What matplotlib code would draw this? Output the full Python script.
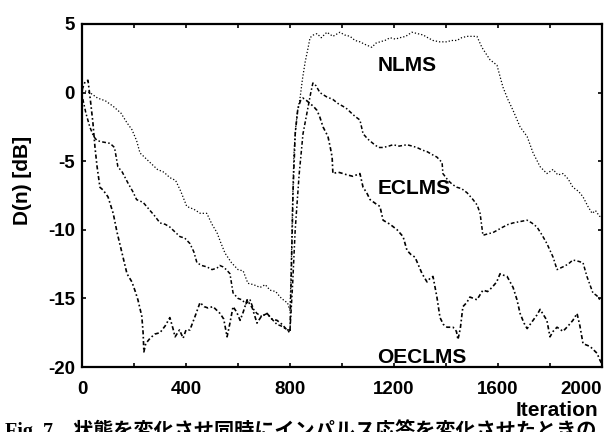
import matplotlib
matplotlib.use("Agg")
import matplotlib.pyplot as plt

# ===== data =====
nlms_x = [0, 30, 60, 90, 120, 150, 173, 192, 210, 223, 240, 262, 290, 315, 338, 360, 380, 403, 430, 455,
          480, 500, 519, 535, 550, 575, 600, 620, 638, 660, 685, 705, 723, 745, 762, 780, 790, 800, 805, 810,
          815, 822, 830, 838, 848, 858, 870, 877, 890, 904, 920, 942, 965, 992, 1010, 1031, 1050, 1069, 1090, 1115,
          1130, 1146, 1165, 1185, 1205, 1223, 1245, 1269, 1290, 1312, 1330, 1350, 1375, 1404, 1420, 1442, 1460, 1481,
          1500, 1519, 1538, 1555, 1569, 1596, 1619, 1638, 1658, 1685, 1712, 1735, 1762, 1788, 1812, 1830, 1850, 1870,
          1888, 1910, 1927, 1946, 1962, 1975, 1990, 2000]
nlms_y = [0.2, 0.0, -0.4, -0.6, -1.0, -1.5, -2.2, -2.7, -3.5, -4.4, -4.7, -5.1, -5.6, -5.8, -6.2, -6.4, -7.2, -8.3, -8.5, -8.8,
          -8.8, -9.6, -10.2, -11.0, -11.7, -12.4, -12.9, -13.0, -13.9, -14.0, -14.2, -14.0, -14.4, -14.5, -14.9, -15.2, -15.3, -15.9, -12.5, -8.0,
          -4.5, -2.5, -1.2, -0.5, 1.0, 2.2, 3.3, 4.0, 4.2, 4.3, 4.0, 4.4, 4.1, 4.4, 4.2, 4.1, 3.8, 3.7, 3.5, 3.3,
          3.6, 3.7, 3.8, 4.0, 3.9, 4.0, 4.1, 4.4, 4.3, 4.2, 4.0, 3.8, 3.7, 3.7, 3.8, 3.8, 4.0, 4.1,
          4.1, 4.1, 3.3, 2.8, 2.4, 2.0, 0.4, -0.5, -1.3, -2.5, -3.2, -4.4, -5.4, -5.9, -5.6, -6.0, -5.9, -6.3,
          -6.9, -7.2, -7.6, -8.3, -8.8, -8.6, -9.0, -9.1]

eclms_x = [0, 15, 30, 45, 58, 80, 108, 125, 138, 155, 177, 195, 210, 235, 262, 280, 300, 320, 338, 360,
           377, 395, 415, 430, 442, 460, 480, 500, 519, 530, 542, 555, 569, 581, 600, 615, 630, 646, 660, 673,
           690, 712, 725, 735, 750, 765, 775, 788, 800, 810, 820, 835, 850, 865, 880, 888, 900, 915, 940, 965,
           985, 1004, 1020, 1042, 1055, 1069, 1081, 1100, 1119, 1140, 1158, 1180, 1196, 1220, 1250, 1270, 1288, 1310,
           1327, 1345, 1365, 1385, 1388, 1408, 1425, 1442, 1460, 1481, 1504, 1520, 1531, 1538, 1542, 1560, 1581, 1600,
           1619, 1640, 1658, 1685, 1712, 1730, 1750, 1770, 1788, 1812, 1827, 1850, 1870, 1888, 1910, 1927, 1942, 1965,
           1980, 1992, 2000]
eclms_y = [-0.2, -1.5, -2.5, -3.2, -3.5, -3.6, -3.7, -4.0, -5.4, -5.8, -6.6, -7.2, -7.8, -8.0, -8.6, -9.0, -9.5, -9.6, -9.8, -10.2,
           -10.5, -10.6, -11.0, -11.6, -12.4, -12.6, -12.7, -12.9, -12.8, -12.6, -12.7, -12.9, -13.2, -14.6, -15.0, -15.1, -15.4, -15.1, -15.8, -16.1,
           -16.3, -16.1, -16.4, -16.6, -16.9, -17.0, -17.1, -17.3, -17.3, -14.0, -10.0, -6.0, -3.0, -1.5, 0.0, 0.7, 0.5, 0.0, -0.3, -0.5,
           -0.8, -1.0, -1.2, -1.6, -1.8, -2.0, -3.0, -3.4, -3.7, -4.0, -4.0, -3.9, -3.8, -3.9, -3.8, -3.9, -4.0, -4.2,
           -4.3, -4.5, -4.7, -5.1, -5.9, -6.4, -6.7, -6.9, -7.0, -7.3, -7.8, -8.2, -8.8, -9.8, -10.4, -10.3, -10.2, -10.0,
           -9.8, -9.6, -9.5, -9.4, -9.3, -9.5, -9.8, -10.4, -11.0, -12.0, -12.9, -12.7, -12.5, -12.2, -12.3, -12.4, -13.4, -14.6,
           -14.8, -15.1, -15.0]

oeclms_x = [0, 12, 23, 32, 42, 50, 58, 69, 81, 100, 120, 135, 154, 173, 192, 205, 215, 230, 235, 238,
            245, 262, 280, 300, 320, 338, 350, 358, 375, 389, 400, 415, 435, 454, 470, 485, 504, 520, 531, 545,
            558, 569, 581, 595, 608, 620, 635, 655, 673, 690, 712, 730, 750, 770, 788, 800, 805, 812, 820, 830,
            840, 850, 865, 877, 890, 904, 915, 927, 946, 955, 962, 965, 985, 1004, 1020, 1042, 1069, 1081, 1095, 1108,
            1130, 1146, 1158, 1185, 1212, 1235, 1250, 1265, 1281, 1308, 1327, 1340, 1350, 1365, 1377, 1390, 1404, 1427,
            1440, 1446, 1455, 1465, 1480, 1492, 1505, 1519, 1542, 1560, 1577, 1595, 1608, 1620, 1635, 1658, 1673, 1685,
            1700, 1712, 1735, 1750, 1762, 1775, 1788, 1800, 1812, 1827, 1850, 1870, 1888, 1904, 1915, 1927, 1954, 1981,
            1992, 2000]
oeclms_y = [0.2, 0.8, 0.9, -0.5, -2.2, -4.0, -5.4, -6.9, -7.1, -7.6, -8.8, -10.2, -11.7, -13.2, -13.8, -14.5, -15.1, -16.3, -17.5, -18.9,
            -18.3, -17.9, -17.6, -17.5, -17.0, -16.4, -17.2, -17.8, -17.3, -17.9, -17.3, -17.3, -16.3, -15.3, -15.6, -15.7, -15.6, -15.9, -16.1, -16.5,
            -17.8, -16.8, -15.6, -16.0, -16.6, -16.0, -15.1, -15.7, -16.8, -16.3, -16.1, -16.5, -16.6, -16.9, -17.3, -17.5, -13.0, -7.0, -3.0, -1.2,
            -0.6, -0.4, -0.6, -0.8, -1.0, -1.3, -1.8, -2.5, -3.2, -4.0, -4.7, -5.9, -5.8, -5.9, -6.0, -6.1, -5.9, -6.9, -7.3, -7.8,
            -8.1, -8.3, -9.3, -9.6, -10.0, -10.5, -11.5, -11.8, -12.0, -13.2, -13.8, -13.5, -13.4, -14.9, -16.4, -16.9, -17.1, -17.1,
            -17.4, -18.0, -17.2, -15.6, -15.3, -14.9, -15.0, -15.1, -14.4, -14.5, -14.2, -13.8, -13.2, -13.3, -13.4, -14.2, -15.1, -16.1,
            -16.8, -17.2, -16.6, -16.2, -15.8, -16.2, -16.6, -17.8, -17.4, -17.1, -17.4, -17.0, -16.6, -16.1, -17.0, -18.3, -18.5, -19.0,
            -19.5, -19.8]

x_ticks = [0, 400, 800, 1200, 1600, 2000]
y_ticks = [-20, -15, -10, -5, 0, 5]
caption = "Fig. 7\u3000状態を変化させ同時にインパルス応答を変化させたときの"

# ===== figure =====
plt.rcParams["font.family"] = ["Liberation Sans", "DejaVu Sans"]
plt.rcParams["axes.unicode_minus"] = False

fig = plt.figure(figsize=(6.09, 4.32), dpi=100)
ax = fig.add_axes([82 / 609, 1 - 367 / 432, 520 / 609, 343 / 432])

ax.plot(nlms_x, nlms_y, color="black", lw=0.9, ls=(0, (1, 1.6)))
ax.plot(eclms_x, eclms_y, color="black", lw=1.1, ls=(0, (1, 1.5, 2.5, 1.5)))
ax.plot(oeclms_x, oeclms_y, color="black", lw=1.2, ls=(0, (2.5, 1.5, 1, 1.5)))

ax.text(1250, 2.0, "NLMS", fontsize=15, fontweight="bold", ha="center", va="center")
ax.text(1277, -7.0, "ECLMS", fontsize=15, fontweight="bold", ha="center", va="center")
ax.text(1308, -19.3, "OECLMS", fontsize=15, fontweight="bold", ha="center", va="center")

ax.set_xlim(0, 2000)
ax.set_ylim(-20, 5)
ax.set_xticks(x_ticks)
ax.set_xticks(range(0, 2001, 200), minor=True)
ax.set_yticks(y_ticks)
ax.tick_params(which="both", direction="in", top=True, right=True, length=3, width=1.2)
ax.tick_params(axis="x", labelsize=13.5, pad=10)
ax.tick_params(axis="y", labelsize=13.5, pad=5)
ax.tick_params(which="minor", labelbottom=False)
for sp in ax.spines.values():
    sp.set_linewidth(1.6)

# last x label sits left of the tick like in the original
lbls = ax.get_xticklabels() + ax.get_yticklabels()
for t in lbls:
    t.set_fontweight("bold")
xl = ax.get_xticklabels()
xl[-1].set_horizontalalignment("right")
xl[-1].set_x(2000)

fig.text(23 / 609, 1 - 180 / 432, "D(n) [dB]", rotation=90, fontsize=15, fontweight="bold",
         ha="center", va="center")
fig.text(598 / 609, 1 - 411 / 432, "Iteration", fontsize=15, fontweight="bold", ha="right", va="center")
fig.text(5 / 609, 1 - 437 / 432, caption, fontsize=14.5, ha="left", va="baseline",
         family=["Liberation Serif", "Noto Sans CJK JP"], fontweight="bold")

fig.savefig("out.png", dpi=100)
